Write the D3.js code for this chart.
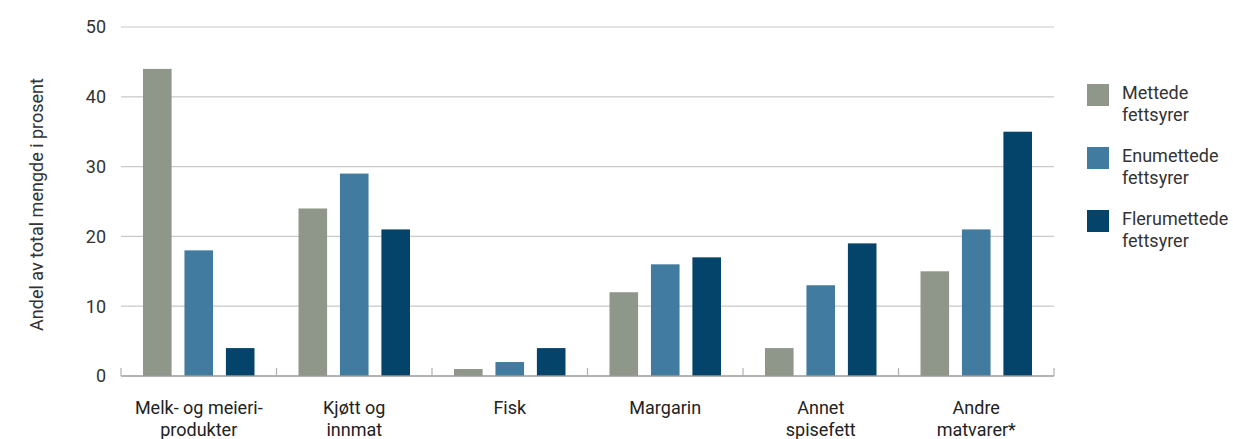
<!DOCTYPE html>
<html><head><meta charset="utf-8">
<script src="https://cdn.jsdelivr.net/npm/d3@7"></script>
<style>body{margin:0;background:#fff;} text{font-family:Roboto,"Noto Sans",sans-serif;}</style>
</head><body>
<svg id="c" width="1233" height="439"></svg>
<script>
const categories = [["Melk- og meieri-","produkter"],["Kjøtt og","innmat"],["Fisk"],["Margarin"],["Annet","spisefett"],["Andre","matvarer*"]];
const seriesNames = [["Mettede","fettsyrer"],["Enumettede","fettsyrer"],["Flerumettede","fettsyrer"]];
const mettede = [44,24,1,12,4,15];
const enumettede = [18,29,2,16,13,21];
const flerumettede = [4,21,4,17,19,35];
const yTicks = [0,10,20,30,40,50];
const colors = ["#8f978b","#417ba0","#04446b"];
const series = [mettede, enumettede, flerumettede];

(function(){
const svg = d3.select("#c");
const mLeft=121, mRight=1054, mTop=27, mBottom=376;
const fs = 18;
const y = d3.scaleLinear().domain([0,50]).range([mBottom,mTop]);
const idx = d3.range(categories.length);
const x0 = d3.scaleBand().domain(idx).range([mLeft,mRight]).paddingInner(0.283).paddingOuter(0.1415);
const x1 = d3.scaleBand().domain([0,1,2]).range([0,x0.bandwidth()]).paddingInner(0.31).paddingOuter(0);

// grid
svg.append("g").selectAll("line").data(yTicks.filter(d=>d>0)).join("line")
  .attr("x1",mLeft).attr("x2",mRight).attr("y1",d=>y(d)).attr("y2",d=>y(d))
  .attr("stroke","#c9c9c9").attr("stroke-width",1.2);
// y labels
svg.append("g").selectAll("text").data(yTicks).join("text")
  .attr("x",106).attr("y",d=>y(d)).attr("dy","0.36em").attr("text-anchor","end")
  .attr("font-size",fs).attr("fill","#333").text(d=>d);
// y title
svg.append("text").attr("transform",`translate(43,${(mTop+mBottom)/2+3}) rotate(-90)`)
  .attr("text-anchor","middle").attr("font-size",fs).attr("fill","#333")
  .text("Andel av total mengde i prosent");

// bars
const g = svg.append("g");
idx.forEach(i=>{
  series.forEach((s,j)=>{
    g.append("rect").attr("x",x0(i)+x1(j)).attr("width",x1.bandwidth())
     .attr("y",y(s[i])).attr("height",y(0)-y(s[i])).attr("fill",colors[j]);
  });
});
// baseline and ticks
svg.append("line").attr("x1",mLeft).attr("x2",mRight).attr("y1",y(0)).attr("y2",y(0))
  .attr("stroke","#9a9a9a").attr("stroke-width",1.3);
const step = x0.step();
const tickXs = d3.range(categories.length+1).map(k=>mLeft+k*step);
svg.append("g").selectAll("line").data(tickXs).join("line")
  .attr("x1",d=>d).attr("x2",d=>d).attr("y1",y(0)).attr("y2",y(0)-8)
  .attr("stroke","#b0b0b0").attr("stroke-width",1.2);
// x labels
svg.append("g").selectAll("text").data(idx).join("text")
  .attr("x",i=>x0(i)+x0.bandwidth()/2).attr("y",414).attr("text-anchor","middle")
  .attr("font-size",fs).attr("fill","#222")
  .each(function(i){
    const t=d3.select(this);
    categories[i].forEach((l,k)=>t.append("tspan").attr("x",x0(i)+x0.bandwidth()/2).attr("dy",k?22:0).text(l));
  });
// legend
const lg = svg.append("g");
seriesNames.forEach((n,j)=>{
  const yy = 84 + j*63;
  lg.append("rect").attr("x",1087).attr("y",yy).attr("width",22).attr("height",22).attr("fill",colors[j]);
  const t = lg.append("text").attr("x",1122).attr("y",yy+15).attr("font-size",fs).attr("fill","#333");
  n.forEach((l,k)=>t.append("tspan").attr("x",1122).attr("dy",k?22:0).text(l));
});
})();
</script>
</body></html>
